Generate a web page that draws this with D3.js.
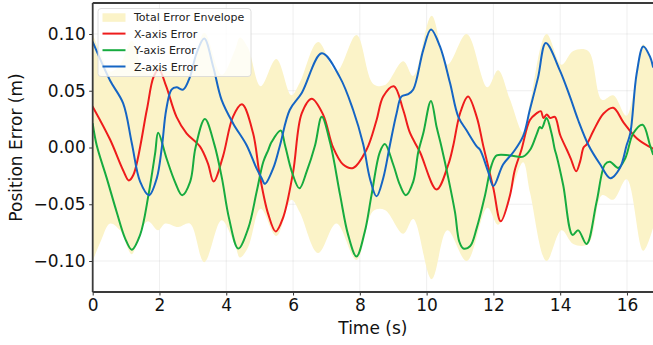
<!DOCTYPE html>
<html>
<head>
<meta charset="utf-8">
<script src="https://cdn.jsdelivr.net/npm/d3@7"></script>
<style>
  html, body { margin: 0; padding: 0; background: #ffffff; }
  svg { display: block; font-family: "DejaVu Sans", sans-serif; }
</style>
</head>
<body>
<svg id="chart" width="653" height="345"></svg>
<script>
// Position error per axis over time: [time (s), error (m)]
const xError = [
  [0, 0.036], [0.52, 0.007], [0.91, -0.02], [1.08, -0.029], [1.22, -0.024],
  [1.62, 0.033], [1.82, 0.062], [1.98, 0.069], [2.2, 0.054], [2.51, 0.027],
  [2.81, 0.0125], [3.21, 0.001], [3.45, -0.014], [3.62, -0.03], [3.9, -0.008],
  [4.2, 0.027], [4.47, 0.038], [4.8, 0.013], [5.0, -0.024], [5.25, -0.058],
  [5.48, -0.074], [5.7, -0.062], [6.0, -0.022], [6.26, 0.03], [6.56, 0.043],
  [6.9, 0.029], [7.2, 0.0], [7.5, -0.015], [7.8, -0.018], [8.2, -0.002],
  [8.5, 0.024], [8.7, 0.045], [9.02, 0.054], [9.3, 0.033], [9.5, 0.013],
  [9.8, -0.004], [10.3, -0.037], [10.65, -0.015], [10.8, 0.002], [11.0, 0.03],
  [11.24, 0.045], [11.5, 0.027], [11.7, 0.001], [12.0, -0.036], [12.22, -0.065],
  [12.49, -0.043], [12.64, -0.02], [12.84, -0.002], [13.09, 0.024], [13.29, 0.03],
  [13.42, 0.032], [13.5, 0.026], [13.6, 0.029], [13.7, 0.026], [13.84, 0.027],
  [14.0, 0.011], [14.2, -0.002], [14.32, -0.01], [14.48, -0.021], [14.6, -0.012],
  [14.7, 0.0], [14.8, 0.003], [15.0, 0.015], [15.3, 0.03], [15.59, 0.035],
  [15.9, 0.022], [16.3, 0.008], [16.78, -0.001]
];

const yError = [
  [0, 0.021], [0.12, 0.002], [0.42, -0.027], [0.72, -0.057], [0.97, -0.08],
  [1.17, -0.09], [1.42, -0.077], [1.67, -0.042], [1.87, -0.005], [1.96, 0.013],
  [2.21, -0.0095], [2.46, -0.03], [2.68, -0.042], [2.92, -0.03], [3.08, 0.0],
  [3.36, 0.025], [3.64, 0.003], [3.87, -0.027], [4.08, -0.062], [4.36, -0.089],
  [4.66, -0.071], [4.91, -0.039], [5.11, -0.0125], [5.26, -0.002], [5.36, 0.005],
  [5.63, 0.015], [5.76, 0.002], [5.96, -0.021], [6.19, -0.036], [6.41, -0.021],
  [6.66, 0.002], [6.86, 0.027], [7.12, 0.003], [7.41, -0.042], [7.65, -0.077],
  [7.9, -0.096], [8.15, -0.074], [8.35, -0.042], [8.6, -0.004], [8.75, 0.003],
  [9.0, -0.015], [9.2, -0.033], [9.38, -0.042], [9.6, -0.03], [9.75, -0.004],
  [9.9, 0.0125], [10.13, 0.041], [10.3, 0.018], [10.45, 0.0], [10.65, -0.027],
  [10.85, -0.057], [10.98, -0.083], [11.1, -0.089], [11.3, -0.087], [11.5, -0.071],
  [11.75, -0.042], [11.95, -0.015], [12.1, -0.007], [12.5, -0.007], [12.89, -0.008],
  [13.1, -0.002], [13.3, 0.012], [13.39, 0.018], [13.45, 0.017], [13.59, 0.026],
  [13.74, 0.0125], [13.84, -0.002], [13.89, -0.007], [14.09, -0.033], [14.37, -0.077],
  [14.54, -0.073], [14.79, -0.085], [15.09, -0.048], [15.34, -0.015], [15.49, -0.0125],
  [15.74, -0.018], [15.95, -0.0095], [16.19, 0.0125], [16.47, 0.02], [16.69, 0.002],
  [16.78, -0.006]
];

const zError = [
  [0, 0.093], [0.52, 0.059], [0.91, 0.039], [1.17, 0.004], [1.42, -0.03],
  [1.69, -0.042], [1.92, -0.027], [2.07, 0.0], [2.2, 0.033], [2.36, 0.051],
  [2.51, 0.053], [2.71, 0.051], [2.91, 0.062], [3.11, 0.083], [3.34, 0.096],
  [3.61, 0.071], [3.86, 0.042], [4.21, 0.021], [4.61, 0.002], [4.9, -0.018],
  [5.06, -0.027], [5.16, -0.032], [5.41, -0.018], [5.61, 0.002], [5.9, 0.033],
  [6.26, 0.048], [6.86, 0.083], [7.4, 0.062], [7.8, 0.033], [8.1, 0.003],
  [8.3, -0.027], [8.5, -0.043], [8.7, -0.027], [8.9, 0.002], [9.1, 0.03],
  [9.25, 0.045], [9.45, 0.047], [9.6, 0.051], [9.9, 0.086], [10.13, 0.104],
  [10.4, 0.089], [10.7, 0.057], [10.95, 0.027], [11.2, 0.015], [11.5, 0.001],
  [11.6, -0.002], [11.84, -0.021], [12.0, -0.034], [12.29, -0.015], [12.6, -0.004],
  [12.89, 0.01], [13.09, 0.033], [13.34, 0.062], [13.57, 0.092], [13.99, 0.068],
  [14.29, 0.045], [14.54, 0.024], [14.85, 0.002], [15.2, -0.015], [15.5, -0.027],
  [15.79, -0.018], [15.99, 0.002], [16.1, 0.0125], [16.29, 0.065], [16.49, 0.089],
  [16.69, 0.08], [16.78, 0.071]
];

// Half-width of the total error band: [time (s), magnitude (m)]
const envelope = [
  [0, 0.100], [0.25, 0.082], [0.52, 0.067], [0.82, 0.073], [1.17, 0.094],
  [1.45, 0.072], [1.66, 0.065], [1.96, 0.073], [2.17, 0.067], [2.56, 0.07],
  [2.91, 0.067], [3.34, 0.101], [3.86, 0.064], [4.26, 0.086], [4.41, 0.097],
  [4.65, 0.088], [5.03, 0.054], [5.5, 0.078], [5.95, 0.046], [6.2, 0.057],
  [6.75, 0.093], [7.3, 0.067], [7.9, 0.099], [8.4, 0.056], [8.75, 0.055],
  [9.3, 0.076], [9.6, 0.063], [10.15, 0.116], [10.62, 0.073], [11.2, 0.100],
  [11.82, 0.053], [12.14, 0.068], [12.5, 0.042], [12.89, 0.013], [13.1, 0.04],
  [13.59, 0.100], [14.04, 0.073], [14.39, 0.085], [14.84, 0.085], [15.25, 0.042],
  [15.59, 0.046], [15.99, 0.028], [16.49, 0.091], [16.78, 0.071]
];

const xTicks = [0, 2, 4, 6, 8, 10, 12, 14, 16];
const yTicks = [-0.10, -0.05, 0.00, 0.05, 0.10];
const legendLabels = ["Total Error Envelope", "X-axis Error", "Y-axis Error", "Z-axis Error"];

const colors = { env: "#fbf3c8", x: "#ee1c1c", y: "#17ab3f", z: "#1565c4" };

const svg = d3.select("#chart");
const plot = { left: 92.7, right: 653, top: 3, bottom: 292 };

const x = d3.scaleLinear().domain([0, 16.78]).range([plot.left, plot.right]);
const y = d3.scaleLinear().domain([-0.1273, 0.1273]).range([plot.bottom, plot.top]);

svg.append("defs").append("clipPath").attr("id", "plotClip")
  .append("rect")
  .attr("x", plot.left).attr("y", plot.top)
  .attr("width", plot.right - plot.left).attr("height", plot.bottom - plot.top);

// grid
const grid = svg.append("g").attr("class", "grid");
grid.selectAll("line.gx").data(xTicks).join("line")
  .attr("x1", d => x(d)).attr("x2", d => x(d))
  .attr("y1", plot.top).attr("y2", plot.bottom)
  .attr("stroke", "#b0b0b0").attr("stroke-opacity", 0.25).attr("stroke-width", 0.8);
grid.selectAll("line.gy").data(yTicks).join("line")
  .attr("x1", plot.left).attr("x2", plot.right)
  .attr("y1", d => y(d)).attr("y2", d => y(d))
  .attr("stroke", "#b0b0b0").attr("stroke-opacity", 0.25).attr("stroke-width", 0.8);

const body = svg.append("g").attr("clip-path", "url(#plotClip)");

// error envelope band
const smooth = d3.curveCatmullRom.alpha(0.5);
const area = d3.area()
  .x(d => x(d[0]))
  .y0(d => y(-d[1]))
  .y1(d => y(d[1]))
  .curve(smooth);
body.append("path").datum(envelope)
  .attr("d", area)
  .attr("fill", colors.env);

const line = d3.line()
  .x(d => x(d[0]))
  .y(d => y(d[1]))
  .curve(smooth);

[[xError, colors.x], [yError, colors.y], [zError, colors.z]].forEach(([data, c]) => {
  body.append("path").datum(data)
    .attr("d", line)
    .attr("fill", "none")
    .attr("stroke", c)
    .attr("stroke-width", 2)
    .attr("stroke-linejoin", "round")
    .attr("stroke-linecap", "round");
});

// axes
const fmtY = d => d3.format(".2f")(d).replace("-", "\u2212");
const xAxis = d3.axisBottom(x).tickValues(xTicks).tickFormat(d3.format("d"))
  .tickSize(3.5).tickPadding(3.5);
const yAxis = d3.axisLeft(y).tickValues(yTicks).tickFormat(fmtY)
  .tickSize(3.5).tickPadding(3.5);

const gx = svg.append("g").attr("transform", `translate(0,${plot.bottom})`).call(xAxis);
const gy = svg.append("g").attr("transform", `translate(${plot.left},0)`).call(yAxis);
[gx, gy].forEach(g => {
  g.select(".domain").remove();
  g.selectAll(".tick line").attr("stroke", "#333").attr("stroke-width", 1);
  g.selectAll(".tick text")
    .attr("font-family", "DejaVu Sans, sans-serif")
    .attr("font-size", 17)
    .attr("fill", "#111");
});

// spines
const spines = svg.append("g").attr("stroke", "#3a3a3a").attr("stroke-width", 1.8).attr("fill", "none");
spines.append("line").attr("x1", plot.left).attr("x2", plot.left).attr("y1", plot.top).attr("y2", plot.bottom);
spines.append("line").attr("x1", plot.left).attr("x2", plot.right).attr("y1", plot.bottom).attr("y2", plot.bottom);
spines.append("line").attr("x1", plot.left).attr("x2", plot.right).attr("y1", plot.top).attr("y2", plot.top);

// axis titles
svg.append("text")
  .attr("x", (plot.left + plot.right) / 2).attr("y", 334)
  .attr("text-anchor", "middle")
  .attr("font-size", 17).attr("fill", "#111")
  .text("Time (s)");
svg.append("text")
  .attr("transform", `translate(21.5,${(plot.top + plot.bottom) / 2}) rotate(-90)`)
  .attr("text-anchor", "middle")
  .attr("font-size", 17).attr("fill", "#111")
  .text("Position Error (m)");

// legend
const legend = svg.append("g");
legend.append("rect")
  .attr("x", 98).attr("y", 8.5).attr("width", 153).attr("height", 68)
  .attr("rx", 3)
  .attr("fill", "#ffffff").attr("fill-opacity", 0.8)
  .attr("stroke", "#d6d6d6").attr("stroke-width", 0.8);
const rowY = [17.3, 33.6, 50.2, 66.5];
const swatch = [colors.env, colors.x, colors.y, colors.z];
legendLabels.forEach((lab, i) => {
  if (i === 0) {
    legend.append("rect")
      .attr("x", 102.5).attr("y", rowY[i] - 4).attr("width", 23).attr("height", 8.5)
      .attr("fill", swatch[i]);
  } else {
    legend.append("line")
      .attr("x1", 102.5).attr("x2", 125.5)
      .attr("y1", rowY[i]).attr("y2", rowY[i])
      .attr("stroke", swatch[i]).attr("stroke-width", 2);
  }
  legend.append("text")
    .attr("x", 134).attr("y", rowY[i] + 4)
    .attr("font-size", 11).attr("fill", "#222")
    .text(lab);
});
</script>
</body>
</html>
